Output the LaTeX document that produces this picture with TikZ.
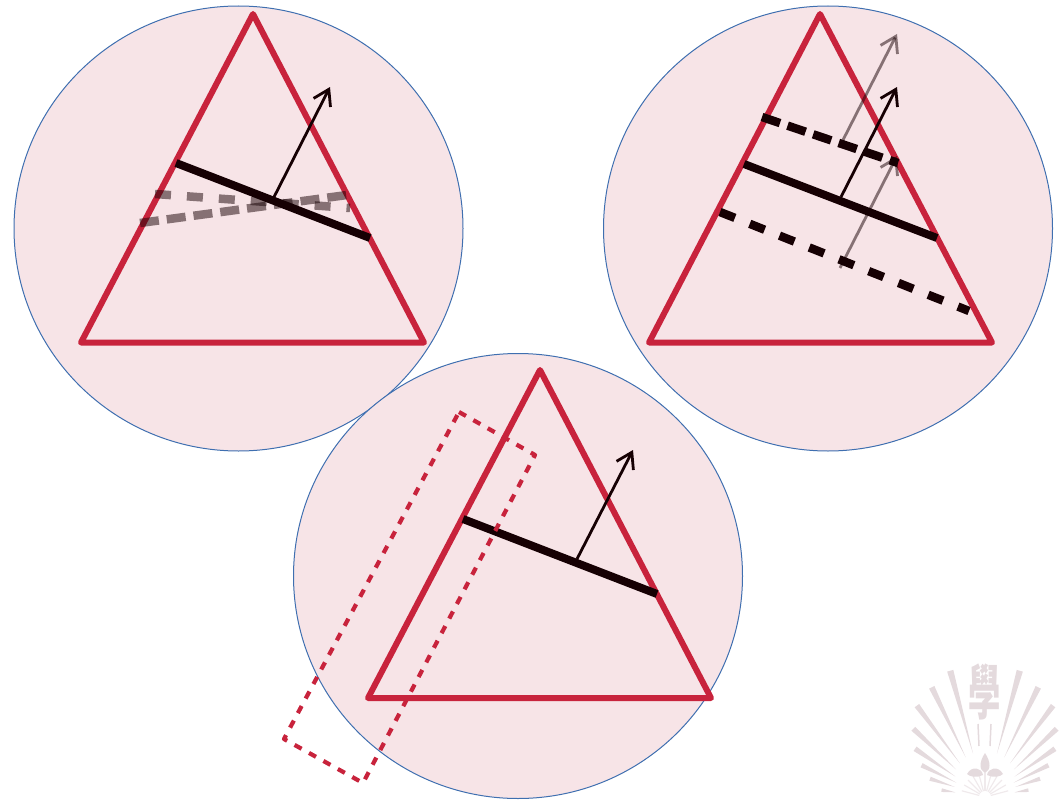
\documentclass[tikz,border=0pt]{standalone}
\usepackage{fontspec}
\usepackage{xcolor}
\usetikzlibrary{arrows.meta,calc}
\newfontfamily\cjk{Noto Sans CJK TC}
\definecolor{diskfill}{HTML}{F7E4E7}
\definecolor{diskblue}{HTML}{3F6FB0}
\definecolor{triared}{HTML}{C8233C}
\definecolor{chordblack}{HTML}{160003}
\definecolor{logotint}{HTML}{E4DADD}
\definecolor{logopale}{HTML}{F0EAEC}
\tikzset{
  disk/.style={fill=diskfill, draw=diskblue, line width=1pt},
  tri/.style={triared, line width=6pt, line join=round},
  chord/.style={chordblack, line width=8pt},
  shortdash/.style={chordblack, line width=8.5pt, dash pattern=on 19pt off 8pt},
  longdash/.style={chordblack, line width=8.5pt, dash pattern=on 16pt off 16pt},
  faded/.style={opacity=0.5},
  normalvec/.style={chordblack, line width=2.8pt, -{Straight Barb[length=15pt,width=19pt]}},
  strip/.style={triared, line width=4.2pt, dash pattern=on 8pt off 8.5pt}
}
\begin{document}
\begin{tikzpicture}[x=1pt, y=-1pt, line join=round]
  \useasboundingbox (0,0) rectangle (1060,800);
  % the three disks
  \draw[disk] (238.5,228.5) ellipse (224.5pt and 222.5pt);
  \draw[disk] (828,228.5) ellipse (224.5pt and 222.5pt);
  \draw[disk] (518,576) ellipse (224.5pt and 222.5pt);
  \coordinate (LA) at (253,14);
  \coordinate (LB) at (81,342.5);
  \coordinate (LC) at (424,342.5);
  \coordinate (RA) at (820,14);
  \coordinate (RB) at (649,342.5);
  \coordinate (RC) at (992,342.5);
  \coordinate (MA) at (540,370);
  \coordinate (MB) at (368,698);
  \coordinate (MC) at (711,698);
  % triangles
  \draw[tri] (LA) -- (LB) -- (LC) -- cycle;
  \draw[tri] (RA) -- (RB) -- (RC) -- cycle;
  \draw[tri] (MA) -- (MB) -- (MC) -- cycle;
  % left panel
  \coordinate (LP) at (176,163);
  \coordinate (LQ) at (370,238);
  \coordinate (LF) at (273,199);
  \coordinate (LT) at (330,87);
  \draw[longdash, faded] (155,194) -- (350,208);
  \draw[shortdash, faded] (140,223) -- (347,195);
  \draw[chord] (LP) -- (LQ);
  \draw[normalvec] (LF) -- (LT);
  % right panel
  \coordinate (RP) at (744,164);
  \coordinate (RQ) at (937,238);
  \coordinate (RF) at (841,197);
  \coordinate (RT) at (897,87);
  \draw[normalvec, faded] (843,140) -- (897,34);
  \draw[normalvec, faded] (840,268) -- (897,156);
  \draw[shortdash] (762,117) -- (898,163);
  \draw[longdash] (720,212) -- (969,311);
  \draw[chord] (RP) -- (RQ);
  \draw[normalvec] (RF) -- (RT);
  % bottom panel
  \coordinate (MP) at (463,519);
  \coordinate (MQ) at (657,594);
  \coordinate (MF) at (577,559);
  \coordinate (MT) at (633,450);
  \draw[chord] (MP) -- (MQ);
  \draw[normalvec] (MF) -- (MT);
  \draw[strip] (459,412) -- (535,455) -- (363,783) -- (284,739) -- cycle;
  % logo in the corner
  \coordinate (LG) at (985,797);
  \foreach \a/\r/\i/\w in {15.4/131/45/1.4, 25.9/122/44/1.4, 36.7/114/42/1.4, 46.4/99/40/1.6, 55.4/85/36/1.8, 63.4/71/32/1.9, 71.6/58/32/2.1, 81/44/30/2.4}{
    \fill[logotint] ($(LG)+(90+\a:\i pt)$) -- ($(LG)+(90+\a-\w:\r pt)$) -- ($(LG)+(90+\a+\w:\r pt)$) -- cycle;
    \fill[logotint] ($(LG)+(90-\a:\i pt)$) -- ($(LG)+(90-\a-\w:\r pt)$) -- ($(LG)+(90-\a+\w:\r pt)$) -- cycle;
  }
  % pale fan under the petals
  \foreach \a in {-75,-60,...,75}
    \draw[logopale, line width=1.2pt] ($(LG)+(90+\a:6pt)$) -- ($(LG)+(90+\a:24pt)$);
  \node[logotint, inner sep=0pt, xscale=0.95, yscale=1.75, font=\cjk\bfseries\fontsize{34pt}{34pt}\selectfont] (logoglyph) at (985,692) {學};
  \draw[logotint, line width=1.5pt] (978,724) -- (979,746);
  \draw[logotint, line width=1.5pt] (991,724) -- (990,746);
  \fill[logotint] (985,753) .. controls (979,762) and (979,770) .. (985,773) .. controls (991,770) and (991,762) .. (985,753) -- cycle;
  \fill[logotint] (967,774) .. controls (972,765) and (982,768) .. (983,775) .. controls (977,778) and (970,777) .. (967,774) -- cycle;
  \fill[logotint] (1003,774) .. controls (998,765) and (988,768) .. (987,775) .. controls (993,778) and (1000,777) .. (1003,774) -- cycle;
\end{tikzpicture}
\end{document}
